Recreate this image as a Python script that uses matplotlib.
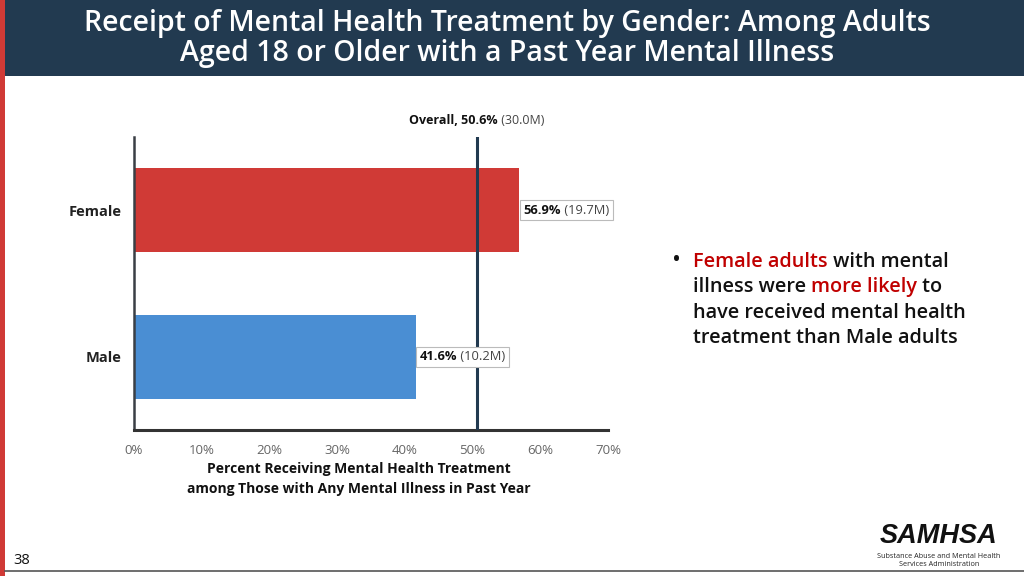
import matplotlib
matplotlib.use("Agg")
import matplotlib.pyplot as plt
from matplotlib.patches import Rectangle
from matplotlib.offsetbox import TextArea, HPacker, AnnotationBbox
from matplotlib import font_manager

plt.rcParams['font.family'] = ['Open Sans', 'DejaVu Sans']

# ---- data ----
categories = ["Male", "Female"]
percents = [41.6, 56.9]
counts = ["(10.2M)", "(19.7M)"]
bar_colors = ["#4A8ED3", "#D03A36"]
overall_pct = 50.6
overall_count = "(30.0M)"
xticks = [0, 10, 20, 30, 40, 50, 60, 70]
xtick_labels = [f"{v}%" for v in xticks]

W, H = 1024, 576
fig = plt.figure(figsize=(W / 100, H / 100), dpi=100)
fig.patch.set_facecolor("white")

def fx(px):
    return px / W

def fy(py):
    return 1 - py / H

# header band and left red strip
fig.add_artist(Rectangle((fx(5), fy(76)), 1 - fx(5), 76 / H, transform=fig.transFigure,
                         facecolor="#223A50", edgecolor="none", zorder=0))
fig.add_artist(Rectangle((0, 0), fx(5), 1, transform=fig.transFigure,
                         facecolor="#D03A36", edgecolor="none", zorder=0))
# bottom line
fig.add_artist(plt.Line2D([fx(5), 1], [fy(571), fy(571)], transform=fig.transFigure,
                          color="#555555", linewidth=1.2))

fig.text(0.495, fy(23), "Receipt of Mental Health Treatment by Gender: Among Adults",
         ha="center", va="center", color="white", fontsize=20.5, fontweight="semibold")
fig.text(0.495, fy(54), "Aged 18 or Older with a Past Year Mental Illness",
         ha="center", va="center", color="white", fontsize=20.5, fontweight="semibold")

# ---- axes ----
ax = fig.add_axes([fx(134), fy(430), fx(608) - fx(134), (430 - 137) / H])
ypos = list(range(len(categories)))
ax.barh(ypos, percents, height=0.575, color=bar_colors, edgecolor="none", zorder=2)
ax.set_xlim(0, 70)
ax.set_ylim(-0.5, 1.5)
ax.set_xticks(xticks)
ax.set_xticklabels(xtick_labels, color="#666666", fontsize=9.5)
ax.set_yticks(ypos)
ax.set_yticklabels(categories, color="#222222", fontsize=10.5, fontweight="bold")
ax.tick_params(axis="both", length=0)
ax.tick_params(axis="x", pad=10)
ax.tick_params(axis="y", pad=9)
for s in ["top", "right"]:
    ax.spines[s].set_visible(False)
ax.spines["left"].set_color("#3A3F45")
ax.spines["left"].set_linewidth(1.8)
ax.spines["bottom"].set_color("#333333")
ax.spines["bottom"].set_linewidth(2.2)

ax.axvline(overall_pct, color="#223A50", linewidth=2.2, zorder=3)

# bar value labels with boxes
for y, p, c in zip(ypos, percents, counts):
    pk = HPacker(children=[TextArea(f"{p}%", textprops=dict(fontsize=9.3, fontweight="bold", color="#111111")),
                           TextArea(f" {c}", textprops=dict(fontsize=9.3, color="#444444"))],
                 align="baseline", pad=0, sep=0)
    ab = AnnotationBbox(pk, (p, y), xybox=(3, 0), xycoords="data", boxcoords="offset points",
                        box_alignment=(0, 0.5), frameon=True, pad=0.25,
                        bboxprops=dict(edgecolor="#BBBBBB", facecolor="white", linewidth=0.8))
    ax.add_artist(ab)

# overall label
pk = HPacker(children=[TextArea(f"Overall, {overall_pct}%", textprops=dict(fontsize=9, fontweight="bold", color="#111111")),
                       TextArea(f" {overall_count}", textprops=dict(fontsize=9, color="#444444"))],
             align="baseline", pad=0, sep=0)
ab = AnnotationBbox(pk, (overall_pct, 1.5), xybox=(0, 12), xycoords="data", boxcoords="offset points",
                    box_alignment=(0.5, 0.5), frameon=False)
ax.add_artist(ab)

# x axis title
fig.text(fx(359), fy(469), "Percent Receiving Mental Health Treatment", ha="center", va="center",
         fontsize=10, fontweight="bold", color="#111111")
fig.text(fx(359), fy(489), "among Those with Any Mental Illness in Past Year", ha="center", va="center",
         fontsize=10, fontweight="bold", color="#111111")

# bullet text
renderer = fig.canvas.get_renderer()
RED = "#C00000"
BLK = "#111111"
lines = [
    [("Female adults", RED), (" with mental", BLK)],
    [("illness were ", BLK), ("more likely", RED), (" to", BLK)],
    [("have received mental health", BLK)],
    [("treatment than Male adults", BLK)],
]
baselines = [267, 292, 318, 343]
fig.text(fx(672), fy(267), "•", fontsize=17, color=BLK, va="baseline", ha="left")
for segs, bl in zip(lines, baselines):
    x = fx(693)
    for s, col in segs:
        t = fig.text(x, fy(bl), s, fontsize=14.3, fontweight="semibold", color=col,
                     va="baseline", ha="left")
        bb = t.get_window_extent(renderer)
        x += bb.width / W

# page number
fig.text(fx(13), fy(560), "38", fontsize=10.5, color="#111111", va="center", ha="left")

# SAMHSA logo text
names = {f.name for f in font_manager.fontManager.ttflist}
logo_fam = ["Liberation Sans Narrow"] if "Liberation Sans Narrow" in names else ["Liberation Sans", "DejaVu Sans"]
logo_size = 24 if "Liberation Sans Narrow" in names else 19.5
fig.text(fx(939), fy(536), "SAMHSA", fontsize=logo_size, fontweight="bold", fontstyle="italic",
         family=logo_fam, color="#111111", ha="center", va="center")
fig.text(fx(939), fy(556), "Substance Abuse and Mental Health", fontsize=5.2, color="#222222",
         ha="center", va="center")
fig.text(fx(939), fy(564), "Services Administration", fontsize=5.2, color="#222222",
         ha="center", va="center")

fig.savefig("out.png", dpi=100)
